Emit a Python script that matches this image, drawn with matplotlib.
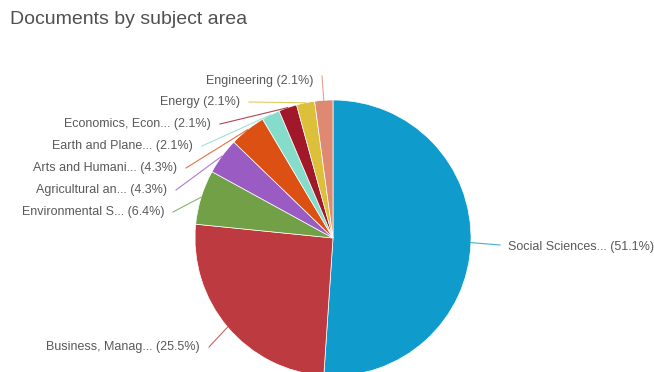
import numpy as np
import matplotlib.pyplot as plt

plt.rcParams['font.family'] = ['Liberation Sans', 'DejaVu Sans']

# Document counts per subject area (clockwise from 12 o'clock)
subjects = ['Social Sciences...', 'Business, Manag...', 'Environmental S...',
            'Agricultural an...', 'Arts and Humani...', 'Earth and Plane...',
            'Economics, Econ...', 'Energy', 'Engineering']
counts = [24, 12, 3, 2, 2, 1, 1, 1, 1]
colors = ['#0f9ccc', '#bd3a40', '#72a046', '#9a5bc2', '#dd5014',
          '#86dccb', '#a0182a', '#dcbf3a', '#de8a72']

# label placement in pixels (text anchor x, text y), right side for the first
label_pos = [(508, 247), (200, 347), (164, 212), (167, 190), (177, 168),
             (193, 146), (211, 124), (240, 102), (313, 81)]

W, H = 654, 372
fig = plt.figure(figsize=(W / 100, H / 100), dpi=100)
ax = fig.add_axes([0, 0, 1, 1])

cx, cy, r = 333, H - 238, 138
wedges, _ = ax.pie(counts, colors=colors, startangle=90, counterclock=False,
                   center=(cx, cy), radius=r, frame=True,
                   wedgeprops=dict(edgecolor='white', linewidth=0.5))
ax.set_xlim(0, W)
ax.set_ylim(0, H)
ax.set_aspect('equal')
ax.axis('off')

total = sum(counts)
for w, name, n, col, (tx, ty) in zip(wedges, subjects, counts, colors, label_pos):
    pct = 100 * n / total
    text = f'{name} ({pct:.1f}%)'
    mid = np.deg2rad((w.theta1 + w.theta2) / 2)
    ex, ey = cx + r * np.cos(mid), cy + r * np.sin(mid)
    ty = H - ty
    if tx > cx:
        ax.text(tx, ty, text, ha='left', va='center', fontsize=9, color='#595959')
        ax.plot([ex, tx - 8], [ey, ty + 2], color=col, lw=0.8, alpha=0.8)
    else:
        ax.text(tx, ty, text, ha='right', va='center', fontsize=9, color='#595959')
        sy = ty + 5 if name == 'Engineering' else ty
        ax.plot([tx + 9, ex], [sy, ey], color=col, lw=0.8, alpha=0.8)

fig.text(10 / W, 1 - 20 / H, 'Documents by subject area', fontsize=14,
         color='#505050', ha='left', va='center')

fig.savefig('out.png', dpi=100, facecolor='white')
